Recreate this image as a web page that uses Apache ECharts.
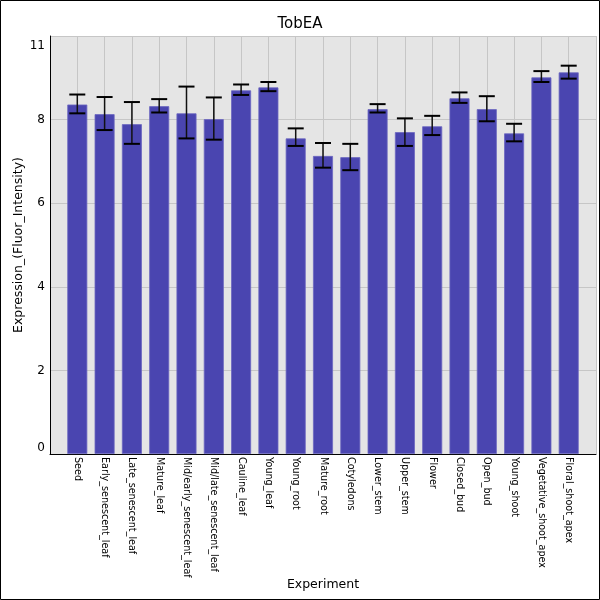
<!DOCTYPE html>
<html>
<head>
<meta charset="utf-8">
<script src="https://cdn.jsdelivr.net/npm/echarts@6/dist/echarts.min.js"></script>
<style>
  html, body { margin: 0; padding: 0; background: #fff; }
  #main { width: 600px; height: 600px; }
</style>
</head>
<body>
<div id="main"></div>
<script>
var experiments = ["Seed", "Early_senescent_leaf", "Late_senescent_leaf", "Mature_leaf",
    "Mid/early_senescent_leaf", "Mid/late_senescent_leaf", "Cauline_leaf", "Young_leaf",
    "Young_root", "Mature_root", "Cotyledons", "Lower_stem", "Upper_stem", "Flower",
    "Closed_bud", "Open_bud", "Young_shoot", "Vegetative_shoot_apex", "Floral_shoot_apex"];
var expression = [8.36, 8.13, 7.89, 8.32, 8.15, 8.01, 8.70, 8.77, 7.55, 7.13, 7.10,
    8.25, 7.70, 7.84, 8.51, 8.25, 7.67, 9.01, 9.13];
var errLow = [8.15, 7.75, 7.42, 8.17, 7.55, 7.52, 8.59, 8.68, 7.37, 6.85, 6.79,
    8.17, 7.37, 7.63, 8.40, 7.96, 7.48, 8.90, 8.98];
var errHigh = [8.60, 8.54, 8.42, 8.49, 8.79, 8.53, 8.84, 8.90, 7.79, 7.44, 7.42,
    8.37, 8.03, 8.09, 8.65, 8.56, 7.90, 9.16, 9.29];
var yTicks = {0: '0', 2: '2', 4: '4', 6: '6', 8: '8', 10: '11'};

// one empty slot on each side so the bars sit a full step in from the frame
var axisCats = [''].concat(experiments).concat(['']);
var barData = ['-'].concat(expression).concat(['-']);
var errData = [];
for (var i = 0; i < experiments.length; i++) {
    errData.push([i + 1, errLow[i], errHigh[i]]);
}

var font = 'DejaVu Sans';
var myChart = echarts.init(document.getElementById('main'));
myChart.setOption({
    animation: false,
    textStyle: {fontFamily: font},
    title: {
        text: 'TobEA',
        left: 'center',
        top: 12,
        textStyle: {fontFamily: font, fontSize: 15, fontWeight: 'normal', color: '#000'}
    },
    graphic: [{
        type: 'rect',
        shape: {x: 0.5, y: 0.5, width: 599, height: 599},
        style: {fill: 'none', stroke: '#000', lineWidth: 1},
        silent: true
    }],
    grid: {
        left: 50, right: 4, top: 36, bottom: 146,
        outerBoundsMode: 'none',
        containLabel: false,
        show: true,
        backgroundColor: '#e5e5e5',
        borderWidth: 0
    },
    xAxis: {
        type: 'category',
        data: axisCats,
        boundaryGap: false,
        name: 'Experiment',
        nameLocation: 'middle',
        nameGap: 124,
        nameMoveOverlap: false,
        nameTextStyle: {fontFamily: font, fontSize: 12.5, color: '#000'},
        axisLine: {lineStyle: {color: '#000', width: 1}},
        axisTick: {show: false},
        axisLabel: {
            interval: 0,
            rotate: -90,
            margin: 3,
            fontFamily: font,
            fontSize: 9.6,
            color: '#000'
        },
        splitLine: {show: true, interval: 0, lineStyle: {color: '#c6c6c6', width: 1}}
    },
    yAxis: {
        type: 'value',
        min: 0,
        max: 10,
        interval: 2,
        name: 'Expression_(Fluor_Intensity)',
        nameLocation: 'middle',
        nameGap: 25,
        nameMoveOverlap: false,
        nameTextStyle: {fontFamily: font, fontSize: 12.5, color: '#000'},
        axisLine: {show: true, lineStyle: {color: '#000', width: 1}},
        axisTick: {show: false},
        axisLabel: {
            margin: 5,
            fontFamily: font,
            fontSize: 12,
            color: '#000',
            formatter: function (value) {
                if (value == 10) return '{top|' + yTicks[value] + '}';
                if (value == 0) return '{bot|' + yTicks[value] + '}';
                return yTicks[value];
            },
            rich: {
                top: {padding: [20, 0, 0, 0], fontSize: 12, fontFamily: font, color: '#000'},
                bot: {padding: [0, 0, 12, 0], fontSize: 12, fontFamily: font, color: '#000'}
            }
        },
        splitLine: {show: true, lineStyle: {color: '#c6c6c6', width: 1}}
    },
    series: [
        {
            name: 'Expression',
            type: 'bar',
            data: barData,
            barWidth: 20,
            itemStyle: {color: '#4a45b0', borderColor: '#6c67c0', borderWidth: 0.8}
        },
        {
            name: 'Error',
            type: 'custom',
            data: errData,
            z: 10,
            renderItem: function (params, api) {
                var x = api.value(0);
                var lo = api.coord([x, api.value(1)]);
                var hi = api.coord([x, api.value(2)]);
                var half = 8;
                return {
                    type: 'group',
                    children: [
                        {type: 'line', shape: {x1: lo[0], y1: lo[1], x2: hi[0], y2: hi[1]},
                            style: {stroke: '#111', lineWidth: 1.5}},
                        {type: 'line', shape: {x1: lo[0] - half, y1: lo[1], x2: lo[0] + half, y2: lo[1]},
                            style: {stroke: '#000', lineWidth: 2}},
                        {type: 'line', shape: {x1: hi[0] - half, y1: hi[1], x2: hi[0] + half, y2: hi[1]},
                            style: {stroke: '#000', lineWidth: 2}}
                    ]
                };
            }
        }
    ]
});
</script>
</body>
</html>
